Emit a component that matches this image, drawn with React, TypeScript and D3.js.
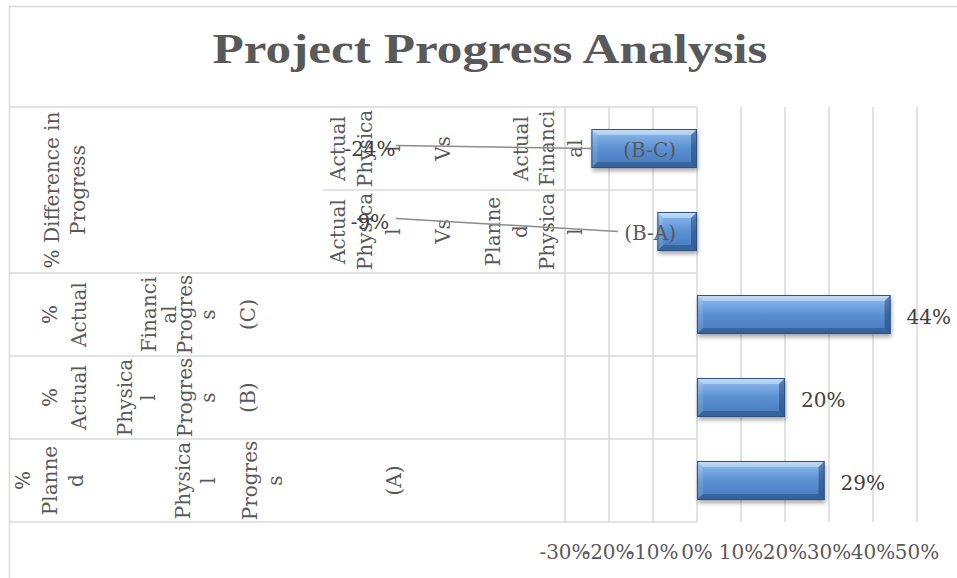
import { useEffect, useRef } from "react";
import * as d3 from "d3";

// categories bottom -> top, as Excel draws a bar chart
const categories = ["(A)", "(B)", "(C)", "(B-A)", "(B-C)"];
const values = [0.29, 0.2, 0.44, -0.09, -0.24];
const valueLabels = ["29%", "20%", "44%", "-9%", "-24%"];
const tickValues = [-0.3, -0.2, -0.1, 0, 0.1, 0.2, 0.3, 0.4, 0.5];

// wrapped (rotated) category text, one entry per wrapped line
const categoryLines = [
  ["%", "Planne", "d", "Physica", "l", "Progres", "s", "(A)"],
  ["%", "Actual", "Physica", "l", "Progres", "s", "(B)"],
  ["%", "Actual", "Financi", "al", "Progres", "s", "(C)"],
  ["Actual", "Physica", "l", "Vs", "Planne", "d", "Physica", "l"],
  ["Actual", "Physica", "l", "Vs", "Actual", "Financi", "al"],
];
const groupLines = ["% Difference in", "Progress"];
const groupMembers = ["(B-A)", "(B-C)"];

// layout only
const W = 957;
const H = 578;
const PLOT = { left: 565, right: 917, top: 107, bottom: 522 };
const LABEL_LEFT = 10;
const FONT = "'DejaVu Serif', serif";
const lineX = [
  [23, 50, 76, 183, 208, 250, 275, 394],
  [50, 79, 125, 148, 185, 208, 248],
  [50, 79, 149, 169, 185, 208, 248],
  [338, 365, 393, 443, 493, 520, 547, 575],
  [338, 365, 393, 443, 521, 547, 575],
];
const groupLineX = [52, 78];
const diffLabelX = 370;
const diffLabelDy: Record<string, number> = { "(B-A)": -10, "(B-C)": 0 };
const BEVEL = 6;

export default function App() {
  const svgRef = useRef<SVGSVGElement>(null);

  useEffect(() => {
    const svg = d3.select(svgRef.current!);
    svg.selectAll("*").remove();

    const x = d3.scaleLinear().domain([-0.3, 0.5]).range([PLOT.left, PLOT.right]);
    const y = d3
      .scaleBand()
      .domain(categories)
      .range([PLOT.bottom, PLOT.top])
      .paddingInner(0.53)
      .paddingOuter(0.265);
    const bw = y.bandwidth();
    const step = y.step();
    const mid = (c: string) => (y(c) ?? 0) + bw / 2;

    const defs = svg.append("defs");
    const grad = defs.append("linearGradient").attr("id", "barFill").attr("x1", 0).attr("y1", 0).attr("x2", 0).attr("y2", 1);
    [
      [0, "#a9cdf4"],
      [0.18, "#7eaee6"],
      [0.5, "#5b90d2"],
      [1, "#4679bb"],
    ].forEach(([o, c]) => grad.append("stop").attr("offset", o as number).attr("stop-color", c as string));
    const shadow = defs.append("filter").attr("id", "shadow").attr("x", "-10%").attr("y", "-20%").attr("width", "130%").attr("height", "160%");
    shadow
      .append("feDropShadow")
      .attr("dx", 1)
      .attr("dy", 3)
      .attr("stdDeviation", 2.2)
      .attr("flood-color", "#000")
      .attr("flood-opacity", 0.35);

    // chart frame
    svg
      .append("rect")
      .attr("x", 9.5)
      .attr("y", 6.5)
      .attr("width", W + 10)
      .attr("height", H + 10)
      .attr("fill", "#fff")
      .attr("stroke", "#d9d9d9")
      .attr("stroke-width", 1.5);

    // title
    svg
      .append("text")
      .attr("x", 490)
      .attr("y", 63)
      .attr("text-anchor", "middle")
      .attr("font-family", "'Liberation Serif', serif")
      .attr("font-weight", "bold")
      .attr("font-size", 42)
      .attr("textLength", 555)
      .attr("lengthAdjust", "spacingAndGlyphs")
      .attr("fill", "#595959")
      .text("Project Progress Analysis");

    const grid = svg.append("g").attr("stroke", "#d9d9d9").attr("stroke-width", 1.5);

    // vertical gridlines
    grid
      .selectAll("line.v")
      .data(tickValues)
      .join("line")
      .attr("class", "v")
      .attr("x1", (d) => x(d))
      .attr("x2", (d) => x(d))
      .attr("y1", PLOT.top)
      .attr("y2", PLOT.bottom);

    // category separators (band boundaries)
    const bounds = categories.map((c) => mid(c) + step / 2);
    bounds.push(mid(categories[categories.length - 1]) - step / 2);
    grid
      .selectAll("line.h")
      .data(bounds)
      .join("line")
      .attr("class", "h")
      .attr("x1", LABEL_LEFT)
      .attr("x2", x(0))
      .attr("y1", (d) => d)
      .attr("y2", (d) => d);
    // separator inside the "% Difference in Progress" group
    const inner = mid(groupMembers[0]) - step / 2;
    svg
      .select("line.h")
      .filter(() => false);
    grid
      .selectAll("line.h")
      .filter((d) => Math.abs((d as number) - inner) < 0.5)
      .attr("x1", 323);

    // bars
    const bars = svg
      .append("g")
      .selectAll("g.bar")
      .data(categories.map((c, i) => ({ c, v: values[i] })))
      .join("g")
      .attr("class", "bar");

    bars.each(function (d) {
      const g = d3.select(this);
      const x0 = Math.min(x(0), x(d.v));
      const x1 = Math.max(x(0), x(d.v));
      const y0 = y(d.c) ?? 0;
      const y1 = y0 + bw;
      const b = Math.min(BEVEL, (x1 - x0) / 2);
      g.append("rect")
        .attr("x", x0)
        .attr("y", y0)
        .attr("width", x1 - x0)
        .attr("height", bw)
        .attr("fill", "url(#barFill)")
        .attr("filter", "url(#shadow)");
      const poly = (pts: number[][], fill: string, op: number) =>
        g.append("polygon").attr("points", pts.map((p) => p.join(",")).join(" ")).attr("fill", fill).attr("opacity", op);
      poly([[x0, y0], [x1, y0], [x1 - b, y0 + b], [x0 + b, y0 + b]], "#ffffff", 0.35);
      poly([[x0, y0], [x0 + b, y0 + b], [x0 + b, y1 - b], [x0, y1]], "#ffffff", 0.12);
      poly([[x0, y1], [x0 + b, y1 - b], [x1 - b, y1 - b], [x1, y1]], "#16365f", 0.35);
      poly([[x1, y0], [x1, y1], [x1 - b, y1 - b], [x1 - b, y0 + b]], "#16365f", 0.45);
      g.append("rect")
        .attr("x", x0 + 0.5)
        .attr("y", y0 + 0.5)
        .attr("width", x1 - x0 - 1)
        .attr("height", bw - 1)
        .attr("fill", "none")
        .attr("stroke", "#2c5486")
        .attr("stroke-width", 1);
    });

    // positive value labels
    const pos = categories.map((c, i) => ({ c, v: values[i], t: valueLabels[i] })).filter((d) => d.v >= 0);
    svg
      .append("g")
      .selectAll("text")
      .data(pos)
      .join("text")
      .attr("x", (d) => x(d.v) + 16)
      .attr("y", (d) => mid(d.c) + 2)
      .attr("dominant-baseline", "central")
      .attr("font-family", FONT)
      .attr("font-size", 20)
      .attr("fill", "#404040")
      .text((d) => d.t);

    // negative (difference) labels with leader lines
    const neg = categories.map((c, i) => ({ c, v: values[i], t: valueLabels[i] })).filter((d) => d.v < 0);
    const negG = svg.append("g");
    neg.forEach((d) => {
      const ly = mid(d.c) + diffLabelDy[d.c];
      const textStart = x(0) - 21 - 58;
      const end = Math.min(x(d.v), textStart);
      negG
        .append("line")
        .attr("x1", diffLabelX + 26)
        .attr("y1", ly - 3)
        .attr("x2", end)
        .attr("y2", mid(d.c))
        .attr("stroke", "#8c8c8c")
        .attr("stroke-width", 1.5);
      negG
        .append("text")
        .attr("x", diffLabelX)
        .attr("y", ly)
        .attr("text-anchor", "middle")
        .attr("dominant-baseline", "central")
        .attr("font-family", FONT)
        .attr("font-size", 20)
        .attr("fill", "#404040")
        .text(d.t);
      negG
        .append("text")
        .attr("x", x(0) - 21)
        .attr("y", mid(d.c) + 1)
        .attr("text-anchor", "end")
        .attr("dominant-baseline", "central")
        .attr("font-family", FONT)
        .attr("font-size", 20)
        .attr("fill", "#595959")
        .text(d.c);
    });

    // rotated category labels
    const labels = svg.append("g").attr("font-family", FONT).attr("font-size", 20).attr("fill", "#595959");
    categories.forEach((c, i) => {
      categoryLines[i].forEach((line, j) => {
        labels
          .append("text")
          .attr("transform", `translate(${lineX[i][j]},${mid(c)}) rotate(-90)`)
          .attr("text-anchor", "middle")
          .attr("dominant-baseline", "central")
          .text(line);
      });
    });
    const groupMid = (mid(groupMembers[0]) + mid(groupMembers[1])) / 2;
    groupLines.forEach((line, j) => {
      labels
        .append("text")
        .attr("transform", `translate(${groupLineX[j]},${groupMid}) rotate(-90)`)
        .attr("text-anchor", "middle")
        .attr("dominant-baseline", "central")
        .text(line);
    });

    // bring the leader lines / diff labels above the category text
    negG.raise();

    // x axis tick labels
    svg
      .append("g")
      .selectAll("text")
      .data(tickValues)
      .join("text")
      .attr("x", (d) => x(d))
      .attr("y", 552)
      .attr("text-anchor", "middle")
      .attr("dominant-baseline", "central")
      .attr("font-family", FONT)
      .attr("font-size", 20)
      .attr("fill", "#595959")
      .text((d) => `${Math.round(d * 100)}%`);
  }, []);

  return (
    <div style={{ position: "absolute", left: 0, top: 0 }}>
      <svg ref={svgRef} width={W} height={H} style={{ display: "block" }} />
    </div>
  );
}
